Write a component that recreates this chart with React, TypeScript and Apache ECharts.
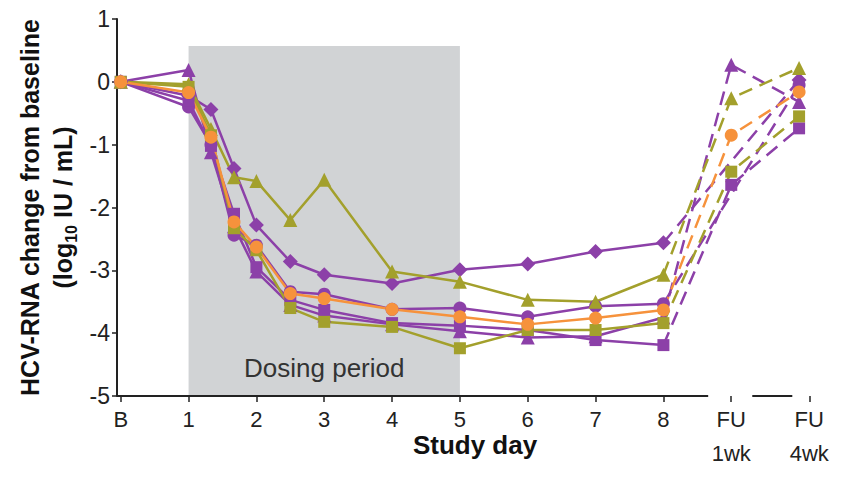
import React, { useEffect, useRef } from "react";
import * as echarts from "echarts";

// Study days (B = baseline = day 0); sub-day samples on day 1
const DAYS = [0, 1, 1.33, 1.67, 2, 2.5, 3, 4, 5, 6, 7, 8];
// Follow-up positions on the x scale (day 8 carried over, FU 1wk, FU 4wk)
const FU_DAYS = [8, 9, 10];

// Tick positions and labels on the x axis
const X_TICKS = [0, 1, 2, 3, 4, 5, 6, 7, 8, 9, 10.15];
const X_TICK_LABELS = ["B", "1", "2", "3", "4", "5", "6", "7", "8", "FU\n1wk", "FU\n4wk"];

// Purple series
const purpleTriangle = [0, 0.19, -1.12, -2.3, -3.02, -3.55, -3.72, -3.86, -3.97, -4.07, -4.05, -3.75];
const purpleTriangleFU = [0.27, -0.32];
const purpleDiamond = [0, -0.22, -0.44, -1.38, -2.28, -2.86, -3.07, -3.21, -2.99, -2.9, -2.7, -2.56];
const purpleDiamondFU = [null, 0.03];
const purpleCircle = [0, -0.4, -1.0, -2.44, -2.6, -3.34, -3.38, -3.62, -3.6, -3.74, -3.57, -3.53];
const purpleCircleFU = [null, -0.05];
const purpleSquare = [0, -0.3, -1.02, -2.1, -2.95, -3.47, -3.63, -3.84, -3.88, -3.95, -4.11, -4.19];
const purpleSquareFU = [-1.64, -0.74];

// Olive series
const oliveTriangle = [0, -0.04, -0.75, -1.52, -1.58, -2.2, -1.56, -3.02, -3.18, -3.47, -3.5, -3.07];
const oliveTriangleFU = [-0.26, 0.22];
const oliveSquare = [0, -0.08, -0.85, -2.33, -2.68, -3.6, -3.82, -3.9, -4.24, -3.95, -3.95, -3.84];
const oliveSquareFU = [-1.43, -0.55];

// Orange series
const orangeCircle = [0, -0.17, -0.88, -2.23, -2.63, -3.37, -3.45, -3.62, -3.74, -3.86, -3.76, -3.63];
const orangeCircleFU = [-0.85, -0.16];

// Dosing period (days) and top of shaded area
const DOSING = [1, 5];
const DOSING_TOP = 0.57;

const PURPLE = "#8c40a8";
const OLIVE = "#a3a02c";
const ORANGE = "#f6923c";
const AXIS = "#222222";
const FONT = "'Liberation Sans', Arial, sans-serif";

function labelFor(v: number): string {
  let best = 0;
  let bd = Infinity;
  X_TICKS.forEach((t, i) => {
    const d = Math.abs(t - v);
    if (d < bd) {
      bd = d;
      best = i;
    }
  });
  const txt = X_TICK_LABELS[best];
  const parts = txt.split("\n");
  if (parts.length === 2) return `{f|${parts[0]}}\n{g|${parts[1]}}`;
  return `{f|${txt}}`;
}

function makeSeries(
  name: string,
  color: string,
  symbol: string,
  size: number,
  main: number[],
  fu: (number | null)[]
) {
  const solid = {
    name,
    type: "line",
    data: DAYS.map((d, i) => [d, main[i]]),
    symbol,
    symbolSize: size,
    lineStyle: { color, width: 2.5 },
    itemStyle: { color, borderWidth: 0 },
    z: 3,
  };
  const dashedData: any[] = [{ value: [FU_DAYS[0], main[main.length - 1]], symbol: "none" }];
  fu.forEach((v, i) => {
    if (v !== null) dashedData.push([FU_DAYS[i + 1], v]);
  });
  const dashed = {
    name: name + " FU",
    type: "line",
    data: dashedData,
    symbol,
    symbolSize: size,
    lineStyle: { color, width: 2.5, type: [14, 8] },
    itemStyle: { color, borderWidth: 0 },
    z: 3,
  };
  return [solid, dashed];
}

export default function App() {
  const ref = useRef<HTMLDivElement>(null);

  useEffect(() => {
    if (!ref.current) return;
    document.body.style.margin = "0";
    const chart = echarts.init(ref.current, undefined, { renderer: "svg" });

    const series: any[] = [
      {
        name: "axis",
        type: "line",
        silent: true,
        clip: false,
        symbol: "none",
        data: [
          [-0.055, -5],
          [8.66, -5],
          [9, "-"],
          [9.31, -5],
          [9.9, -5],
        ],
        lineStyle: { color: AXIS, width: 2 },
        z: 1,
        markArea: {
          silent: true,
          itemStyle: { color: "#d1d3d5" },
          label: {
            show: true,
            position: "insideBottom",
            distance: 15,
            fontSize: 26,
            color: "#333",
            fontFamily: FONT,
          },
          data: [
            [
              { name: "Dosing period", xAxis: DOSING[0], yAxis: DOSING_TOP },
              { xAxis: DOSING[1], yAxis: -5 },
            ],
          ],
        },
      },
      ...makeSeries("Purple ▲", PURPLE, "triangle", 14, purpleTriangle, purpleTriangleFU),
      ...makeSeries("Purple ◆", PURPLE, "diamond", 15, purpleDiamond, purpleDiamondFU),
      ...makeSeries("Purple ●", PURPLE, "circle", 13, purpleCircle, purpleCircleFU),
      ...makeSeries("Purple ■", PURPLE, "rect", 12, purpleSquare, purpleSquareFU),
      ...makeSeries("Olive ▲", OLIVE, "triangle", 14, oliveTriangle, oliveTriangleFU),
      ...makeSeries("Olive ■", OLIVE, "rect", 12, oliveSquare, oliveSquareFU),
      ...makeSeries("Orange ●", ORANGE, "circle", 13, orangeCircle, orangeCircleFU),
    ];

    chart.setOption({
      animation: false,
      grid: {
        left: 117,
        top: 19,
        right: 17,
        bottom: 82,
        containLabel: false,
        outerBoundsMode: "none",
      },
      xAxis: {
        type: "value",
        min: -0.055,
        max: 10.5,
        axisLine: { show: false, onZero: false },
        splitLine: { show: false },
        axisTick: {
          show: true,
          customValues: X_TICKS,
          length: 6,
          lineStyle: { color: AXIS, width: 1.5 },
        },
        axisLabel: {
          customValues: X_TICKS,
          formatter: (v: number) => labelFor(v),
          color: AXIS,
          fontFamily: FONT,
          margin: 13,
          rich: {
            f: { fontSize: 22, lineHeight: 20, color: AXIS, fontFamily: FONT },
            g: { fontSize: 22, lineHeight: 48, color: AXIS, fontFamily: FONT },
          },
        },
        name: "Study day",
        nameLocation: "middle",
        nameGap: 36,
        nameMoveOverlap: false,
        nameTextStyle: { fontWeight: "bold", fontSize: 26, color: "#111", fontFamily: FONT },
      },
      yAxis: {
        type: "value",
        min: -5,
        max: 1,
        interval: 1,
        axisLine: { show: true, onZero: false, lineStyle: { color: AXIS, width: 2 } },
        axisTick: { show: true, length: 5, lineStyle: { color: AXIS, width: 1.5 } },
        axisLabel: { fontSize: 23, color: AXIS, fontFamily: FONT, margin: 7 },
        splitLine: { show: false },
        name: "{t|HCV-RNA change from baseline}\n{t|(log}{s|10}{t| IU / mL)}",
        nameLocation: "middle",
        nameRotate: 90,
        nameGap: 38,
        nameMoveOverlap: false,
        nameTextStyle: {
          rich: {
            t: { fontSize: 25, fontWeight: "bold", color: "#111", fontFamily: FONT, lineHeight: 33 },
            s: {
              fontSize: 16,
              fontWeight: "bold",
              color: "#111",
              fontFamily: FONT,
              lineHeight: 14,
              verticalAlign: "bottom",
            },
          },
        },
      },
      series,
    });

    return () => chart.dispose();
  }, []);

  return <div ref={ref} style={{ width: 850, height: 478 }} />;
}
